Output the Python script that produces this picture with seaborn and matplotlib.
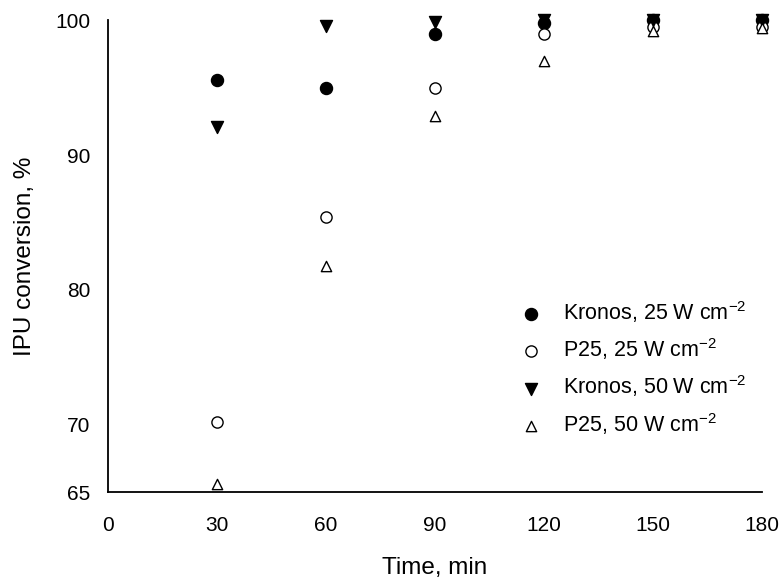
import matplotlib
matplotlib.use("Agg")
from matplotlib import pyplot as plt
import seaborn as sns
import pandas as pd

# data
time_min = [30, 60, 90, 120, 150, 180]
kronos_25 = [95.55, 95.0, 99.0, 99.8, 100.0, 100.0]
p25_25 = [70.2, 85.4, 95.0, 99.0, 99.5, 99.5]
kronos_50 = [92.1, 99.6, 99.9, 100.0, 100.0, 100.0]
p25_50 = [65.6, 81.8, 92.9, 97.0, 99.2, 99.4]

labels = ["Kronos, 25 W cm$^{-2}$", "P25, 25 W cm$^{-2}$",
          "Kronos, 50 W cm$^{-2}$", "P25, 50 W cm$^{-2}$"]
series = [kronos_25, p25_25, kronos_50, p25_50]
markers = ["o", "o", "v", "^"]
faces = ["black", "white", "black", "white"]
sizes = [75, 65, 75, 55]

sns.set_style("white")
plt.rcParams['font.family'] = ['Liberation Sans', 'DejaVu Sans']
plt.rcParams['mathtext.fontset'] = 'custom'
plt.rcParams['mathtext.rm'] = 'Liberation Sans'
plt.rcParams['text.color'] = 'black'
plt.rcParams['axes.labelcolor'] = 'black'
plt.rcParams['xtick.labelcolor'] = 'black'
plt.rcParams['ytick.labelcolor'] = 'black'

fig = plt.figure(figsize=(7.84, 5.79), dpi=100)
ax = fig.add_axes([0.138, 0.150, 0.834, 0.815])

for vals, lab, m, fc, s in zip(series, labels, markers, faces, sizes):
    df = pd.DataFrame({"t": time_min, "y": vals})
    sns.scatterplot(data=df, x="t", y="y", ax=ax, marker=m, s=s,
                    facecolor=fc, edgecolor="black", linewidth=1,
                    label=lab, clip_on=False, zorder=3)

ax.set_xlim(0, 180)
ax.set_ylim(65, 100)
ax.set_xticks([0, 30, 60, 90, 120, 150, 180])
ax.set_yticks([65, 70, 80, 90, 100])
ax.tick_params(labelsize=15, direction="inout", length=6, width=2,
               color="white")
ax.tick_params(axis="x", pad=14)
ax.tick_params(axis="y", pad=10)
for side in ["top", "right"]:
    ax.spines[side].set_visible(False)
for side in ["left", "bottom"]:
    ax.spines[side].set_color("black")
    ax.spines[side].set_linewidth(1.3)

ax.set_xlabel("Time, min", fontsize=17.5, labelpad=16)
ax.set_ylabel("IPU conversion, %", fontsize=17.5, labelpad=14)

ax.legend(loc="upper left", bbox_to_anchor=(0.614, 0.41), frameon=False,
          fontsize=15.5, handletextpad=0.5, labelspacing=0.53,
          borderaxespad=0, borderpad=0)

fig.savefig("out.png", dpi=100)
